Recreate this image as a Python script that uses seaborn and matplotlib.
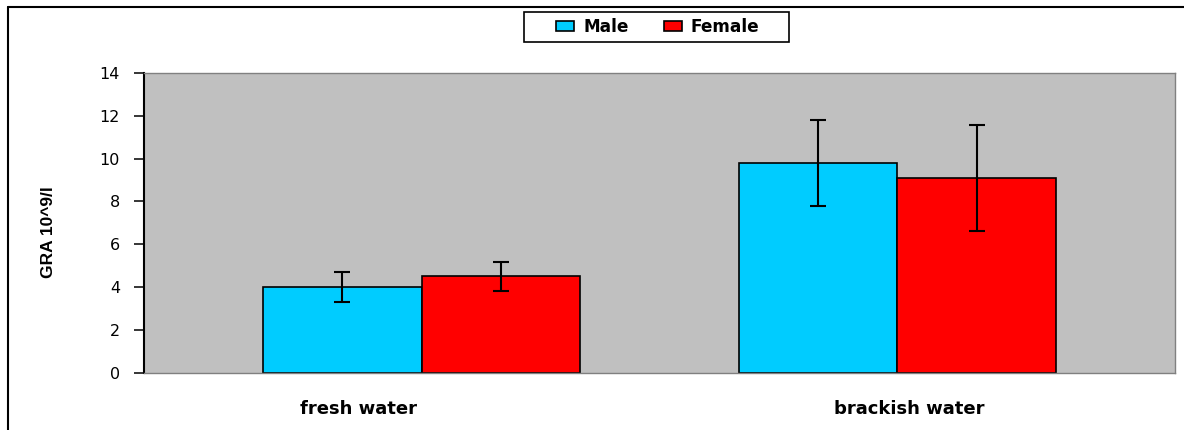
import matplotlib
matplotlib.use("Agg")
import matplotlib.pyplot as plt
import matplotlib.transforms as mtransforms
from matplotlib.lines import Line2D
from matplotlib.patches import Rectangle, Patch
import seaborn as sns
import pandas as pd

# ---- data ----
categories = ["fresh water", "brackish water"]
series = ["Male", "Female"]
male_values = [4.0, 9.8]
female_values = [4.5, 9.1]
male_errors = [0.7, 2.0]
female_errors = [0.68, 2.47]
y_ticks = [0, 2, 4, 6, 8, 10, 12, 14]
y_label = "GRA 10^9/l"

colors = {"Male": "#00CCFF", "Female": "#FF0000"}

df = pd.DataFrame({
    "category": categories * 2,
    "sex": ["Male"] * len(categories) + ["Female"] * len(categories),
    "value": male_values + female_values,
})
errs = {"Male": male_errors, "Female": female_errors}

sns.set_theme(style="white")
plt.rcParams["font.family"] = ["DejaVu Sans"]
plt.rcParams["text.color"] = "black"
plt.rcParams["axes.labelcolor"] = "black"
plt.rcParams["xtick.color"] = "black"
plt.rcParams["ytick.color"] = "black"

W, H = 1184, 430
fig = plt.figure(figsize=(W / 100, H / 100), dpi=100)
ax = fig.add_axes([144 / W, 1 - 372.7 / H, (1175 - 144) / W, (372.7 - 73) / H])
ax.set_facecolor("#C0C0C0")

sns.barplot(data=df, x="category", y="value", hue="sex", order=categories,
            hue_order=series, palette=colors, width=0.666, errorbar=None,
            edgecolor="black", linewidth=1.2, saturation=1, ax=ax, legend=False,
            zorder=2)

for cont, s in zip(ax.containers, series):
    xs = [b.get_x() + b.get_width() / 2 for b in cont]
    ys = [b.get_height() for b in cont]
    ax.errorbar(xs, ys, yerr=errs[s], fmt="none", ecolor="black",
                elinewidth=1.5, capsize=5.6, capthick=1.5, zorder=3)

ax.set_xlim(-0.583, 1.583)
ax.set_ylim(0, 14)
ax.set_yticks(y_ticks)
ax.set_yticklabels([str(t) for t in y_ticks], fontsize=11.5, color="black")
ax.tick_params(axis="y", direction="out", length=7.2, width=1.1, color="black",
               labelcolor="black", pad=10, left=True)
ax.tick_params(axis="x", length=0, pad=20, labelcolor="black")
for lab in ax.get_xticklabels():
    lab.set_fontweight("bold")
    lab.set_fontsize(13)
    lab.set_color("black")
# shift category labels to match reference placement
offsets = [-63, 12]
for lab, dx in zip(ax.get_xticklabels(), offsets):
    lab.set_transform(lab.get_transform() +
                      mtransforms.ScaledTranslation(dx / 100, 0, fig.dpi_scale_trans))

ax.set_xlabel("")
ax.set_ylabel(y_label, fontsize=12.5, fontweight="bold", color="black",
              family=["Liberation Sans", "DejaVu Sans"])
ax.yaxis.set_label_coords(-0.085, 0.47)

for side in ["top", "right", "bottom"]:
    ax.spines[side].set_color("#808080")
    ax.spines[side].set_linewidth(1.0)
    ax.spines[side].set_visible(True)
ax.spines["left"].set_color("black")
ax.spines["left"].set_linewidth(1.5)
ax.spines["left"].set_visible(True)
ax.grid(False)

# figure border (left and top lines)
fig.add_artist(Line2D([8 / W, 8 / W], [0, 1 - 7 / H], transform=fig.transFigure,
                      color="black", lw=1.5))
fig.add_artist(Line2D([8 / W, 1], [1 - 7 / H, 1 - 7 / H], transform=fig.transFigure,
                      color="black", lw=1.5))

# legend
handles = [Patch(facecolor=colors[s], edgecolor="black", linewidth=1.2) for s in series]
fig.add_artist(Rectangle((524 / W, 1 - 42 / H), (789 - 524) / W, 30 / H,
                         transform=fig.transFigure, facecolor="white",
                         edgecolor="black", lw=1.2, zorder=4))
leg = fig.legend(handles, series, loc="center", bbox_to_anchor=(658 / W, 1 - 27 / H),
                 ncol=2, frameon=False, prop={"weight": "bold", "size": 12.2},
                 handlelength=1.03, handleheight=0.6, handletextpad=0.55,
                 columnspacing=2.1, borderpad=0.2)
leg.set_zorder(5)
for t in leg.get_texts():
    t.set_color("black")

fig.savefig("out.png", dpi=100, facecolor="white")
